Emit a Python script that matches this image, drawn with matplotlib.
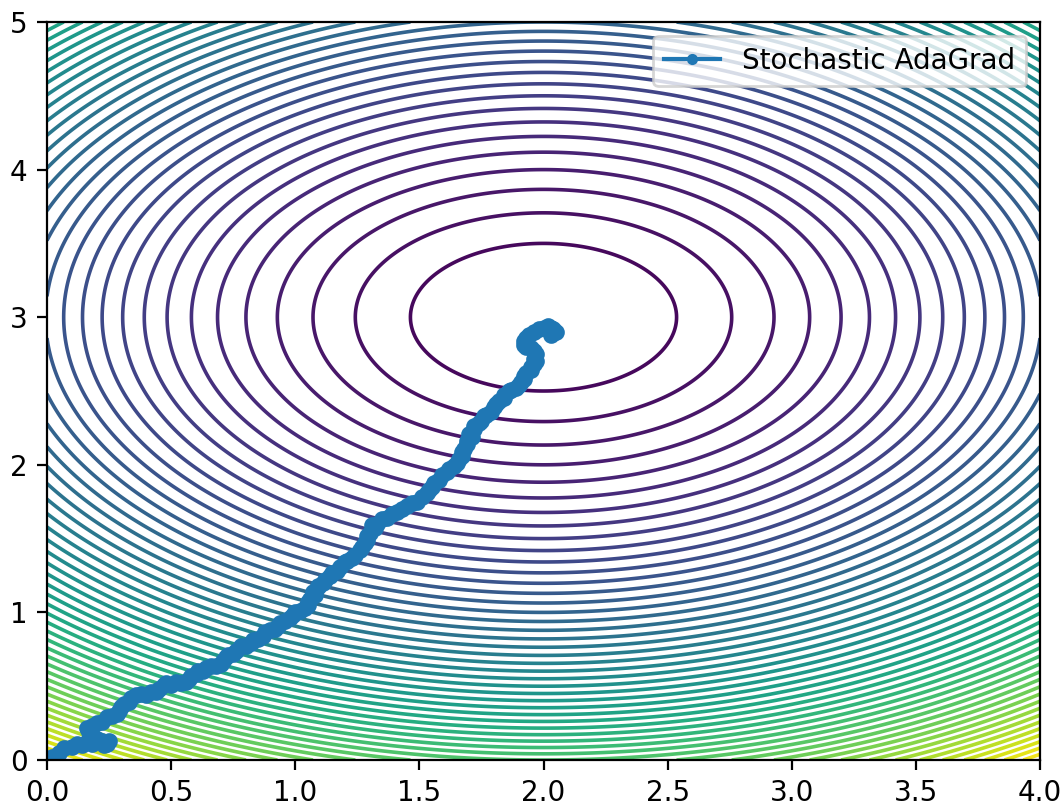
import numpy as np
import matplotlib
matplotlib.use("Agg")
import matplotlib.pyplot as plt

# objective: a*(x - cx)^2 + (y - cy)^2, minimum at (2, 3)
center_x = 2.0
center_y = 3.0
x_weight = 0.87
n_levels = 50

# AdaGrad trajectory
path_x = [0.00, 0.02, 0.05, 0.07, 0.10, 0.12, 0.14, 0.16, 0.18, 0.20,
          0.22, 0.24, 0.25, 0.23, 0.22, 0.19, 0.18, 0.17, 0.16, 0.18,
          0.20, 0.22, 0.24, 0.26, 0.28, 0.29, 0.30, 0.31, 0.33, 0.34,
          0.36, 0.38, 0.40, 0.42, 0.44, 0.45, 0.47, 0.48, 0.50, 0.52,
          0.54, 0.56, 0.57, 0.58, 0.60, 0.61, 0.63, 0.64, 0.66, 0.68,
          0.70, 0.71, 0.72, 0.73, 0.75, 0.76, 0.78, 0.80, 0.82, 0.83,
          0.85, 0.87, 0.88, 0.90, 0.92, 0.93, 0.94, 0.96, 0.98, 0.99,
          1.00, 1.02, 1.04, 1.05, 1.05, 1.06, 1.08, 1.07, 1.09, 1.09,
          1.11, 1.12, 1.14, 1.15, 1.17, 1.18, 1.20, 1.21, 1.23, 1.24,
          1.26, 1.27, 1.28, 1.29, 1.29, 1.30, 1.32, 1.31, 1.33, 1.35,
          1.37, 1.39, 1.41, 1.43, 1.45, 1.47, 1.49, 1.51, 1.53, 1.54,
          1.55, 1.56, 1.58, 1.59, 1.61, 1.62, 1.64, 1.65, 1.66, 1.67,
          1.67, 1.68, 1.69, 1.69, 1.71, 1.70, 1.72, 1.72, 1.74, 1.75,
          1.76, 1.77, 1.79, 1.80, 1.81, 1.82, 1.84, 1.84, 1.86, 1.87,
          1.89, 1.90, 1.91, 1.92, 1.92, 1.93, 1.95, 1.95, 1.96, 1.97,
          1.96, 1.97, 1.96, 1.95, 1.93, 1.92, 1.92, 1.93, 1.94, 1.96,
          1.98, 2.00, 2.02, 2.03, 2.04, 2.05, 2.04, 2.03]
path_y = [0.00, 0.02, 0.05, 0.08, 0.09, 0.11, 0.10, 0.12, 0.11, 0.14,
          0.13, 0.11, 0.13, 0.10, 0.12, 0.14, 0.17, 0.19, 0.22, 0.23,
          0.25, 0.26, 0.29, 0.30, 0.31, 0.33, 0.36, 0.38, 0.39, 0.42,
          0.44, 0.45, 0.44, 0.46, 0.46, 0.48, 0.51, 0.52, 0.51, 0.53,
          0.52, 0.53, 0.55, 0.57, 0.58, 0.60, 0.60, 0.62, 0.64, 0.64,
          0.65, 0.67, 0.70, 0.71, 0.72, 0.74, 0.77, 0.77, 0.79, 0.81,
          0.82, 0.84, 0.87, 0.88, 0.89, 0.91, 0.93, 0.94, 0.96, 0.98,
          1.00, 1.01, 1.03, 1.05, 1.07, 1.09, 1.12, 1.14, 1.17, 1.18,
          1.20, 1.22, 1.25, 1.27, 1.28, 1.31, 1.34, 1.35, 1.37, 1.39,
          1.42, 1.44, 1.47, 1.49, 1.52, 1.54, 1.57, 1.59, 1.60, 1.63,
          1.64, 1.67, 1.68, 1.70, 1.72, 1.74, 1.75, 1.78, 1.81, 1.83,
          1.85, 1.88, 1.90, 1.93, 1.95, 1.97, 1.99, 2.01, 2.04, 2.06,
          2.09, 2.11, 2.14, 2.16, 2.19, 2.21, 2.24, 2.26, 2.28, 2.30,
          2.33, 2.34, 2.36, 2.39, 2.41, 2.43, 2.45, 2.47, 2.50, 2.51,
          2.52, 2.54, 2.56, 2.58, 2.60, 2.62, 2.64, 2.66, 2.68, 2.70,
          2.72, 2.75, 2.77, 2.79, 2.80, 2.81, 2.84, 2.86, 2.88, 2.90,
          2.92, 2.93, 2.94, 2.93, 2.92, 2.90, 2.89, 2.88]

xs = np.linspace(0, 4, 400)
ys = np.linspace(0, 5, 500)
X, Y = np.meshgrid(xs, ys)
Z = x_weight * (X - center_x) ** 2 + (Y - center_y) ** 2

fig = plt.figure(figsize=(1063 / 200, 807 / 200), dpi=200)
ax = fig.add_axes([47 / 1063, 47 / 807, 993 / 1063, 738 / 807])

ax.contour(X, Y, Z, levels=n_levels, cmap='viridis', linewidths=1.3)
ax.plot(path_x, path_y, marker='.', markersize=10, color='C0',
        label='Stochastic AdaGrad')

ax.set_xlim(0, 4)
ax.set_ylim(0, 5)
leg = ax.legend(loc='upper right')
# keep the legend glyph at the default dot size
leg.legend_handles[0].set_markersize(6)

fig.savefig('out.png', dpi=200)
